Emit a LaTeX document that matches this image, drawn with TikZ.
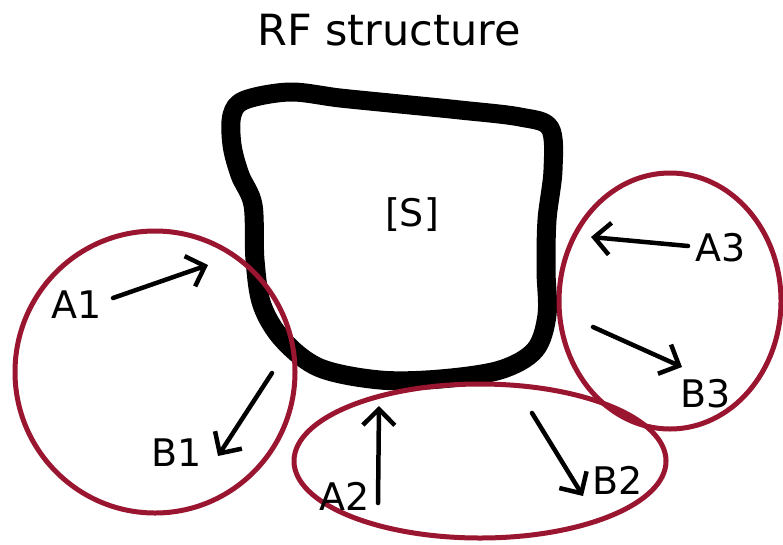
\documentclass[tikz,border=0pt]{standalone}
\usepackage{fontspec}
\setmainfont{DejaVu Sans}
\usetikzlibrary{arrows.meta}
\definecolor{ringred}{HTML}{9A1530}
\tikzset{
  ring/.style={draw=ringred, line width=5pt},
  lbl/.style={font=\fontsize{38}{38}\selectfont, inner sep=0pt, anchor=center},
  arr/.style={line width=4.5pt, line cap=round, -{Straight Barb[length=16pt,width=32pt,line width=4.5pt]}},
  blob/.style={line width=19pt, line join=round}
}
\begin{document}
\begin{tikzpicture}[x=1pt,y=-1pt]
\useasboundingbox (0,0) rectangle (783,544);
\fill[white] (0,0) rectangle (783,544);
% title
\node[font=\fontsize{43}{43}\selectfont, inner sep=0pt] (title) at (389,30) {RF structure};
% blob
\draw[blob] plot[smooth cycle, tension=0.55] coordinates {
 (245,100) (290,92) (340,98) (400,104) (460,110) (520,117) (550,128)
 (553,170) (547,220) (546,270) (547,315) (535,350) (500,370) (440,379)
 (380,380) (320,368) (283,340) (262,305) (255,260) (253,205) (240,175)
 (232,145) (232,115)};
\node[lbl] (S) at (412,215) {[S]};
% rings
\draw[ring] (155,372) ellipse [x radius=140, y radius=141];
\draw[ring] (480,461) ellipse [x radius=186, y radius=77];
\draw[ring] (670,301) ellipse [x radius=111, y radius=128];
% labels
\node[lbl] (A1) at (77,305) {A1};
\node[lbl] (B1) at (177,453) {B1};
\node[lbl] (A2) at (345,496) {A2};
\node[lbl] (B2) at (618,480) {B2};
\node[lbl] (A3) at (721,248) {A3};
\node[lbl] (B3) at (706,394) {B3};
% arrow end points
\coordinate (a1s) at (113,298); \coordinate (a1e) at (208,265);
\coordinate (b1s) at (272,373); \coordinate (b1e) at (218,456);
\coordinate (a2s) at (378,503); \coordinate (a2e) at (379,406);
\coordinate (b2s) at (532,413); \coordinate (b2e) at (583,496);
\coordinate (a3s) at (688,246); \coordinate (a3e) at (591,237);
\coordinate (b3s) at (593,327); \coordinate (b3e) at (682,367);
\draw[arr] (a1s) -- (a1e);
\draw[arr] (b1s) -- (b1e);
\draw[arr] (a2s) -- (a2e);
\draw[arr] (b2s) -- (b2e);
\draw[arr] (a3s) -- (a3e);
\draw[arr] (b3s) -- (b3e);
\end{tikzpicture}
\end{document}
